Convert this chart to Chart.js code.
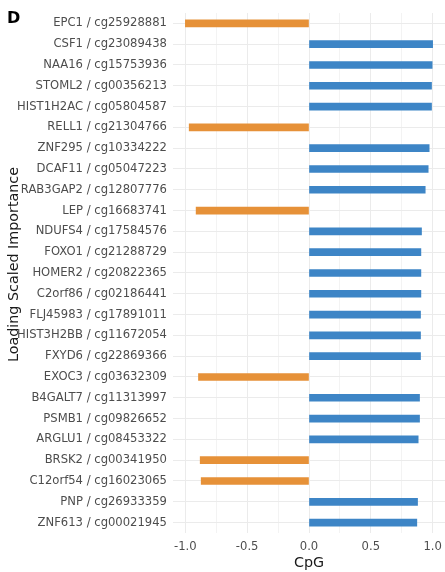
<!DOCTYPE html>
<html>
<head>
<meta charset="utf-8">
<script src="https://cdn.jsdelivr.net/npm/chart.js@4/dist/chart.umd.min.js"></script>
<style>
  html, body { margin: 0; padding: 0; background: #ffffff; }
  #wrap { position: relative; width: 445px; height: 572px; }
</style>
</head>
<body>
<div id="wrap"><canvas id="chart" width="445" height="572"></canvas></div>
<script>
// CpG loadings, top to bottom
const genes = [
  'EPC1 / cg25928881', 'CSF1 / cg23089438', 'NAA16 / cg15753936', 'STOML2 / cg00356213',
  'HIST1H2AC / cg05804587', 'RELL1 / cg21304766', 'ZNF295 / cg10334222', 'DCAF11 / cg05047223',
  'RAB3GAP2 / cg12807776', 'LEP / cg16683741', 'NDUFS4 / cg17584576', 'FOXO1 / cg21288729',
  'HOMER2 / cg20822365', 'C2orf86 / cg02186441', 'FLJ45983 / cg17891011', 'HIST3H2BB / cg11672054',
  'FXYD6 / cg22869366', 'EXOC3 / cg03632309', 'B4GALT7 / cg11313997', 'PSMB1 / cg09826652',
  'ARGLU1 / cg08453322', 'BRSK2 / cg00341950', 'C12orf54 / cg16023065', 'PNP / cg26933359',
  'ZNF613 / cg00021945'
];
const loadings = [
  -1.00, 1.00, 0.996, 0.991,
  0.991, -0.969, 0.972, 0.964,
  0.940, -0.913, 0.910, 0.905,
  0.905, 0.905, 0.902, 0.902,
  0.902, -0.894, 0.894, 0.894,
  0.883, -0.880, -0.872, 0.878,
  0.872
];
const majorTicks = [-1, -0.5, 0, 0.5, 1];
const majorTickLabels = ['-1.0', '-0.5', '0.0', '0.5', '1.0'];
const minorTicks = [-0.75, -0.25, 0.25, 0.75];

const positiveColor = '#3D85C6';
const negativeColor = '#E69138';
const FONT = "'DejaVu Sans', 'Liberation Sans', sans-serif";

Chart.defaults.font.family = FONT;
Chart.defaults.color = '#4D4D4D';

// Panel letter and the rotated y-axis title
const decorations = {
  id: 'decorations',
  afterDraw(chart) {
    const ctx = chart.ctx;
    ctx.save();
    ctx.fillStyle = '#000000';
    ctx.font = "bold 16px " + FONT;
    ctx.textAlign = 'left';
    ctx.textBaseline = 'alphabetic';
    ctx.fillText('D', 7, 22.7);

    ctx.font = "14.3px " + FONT;
    ctx.fillStyle = '#1a1a1a';
    ctx.translate(17.5, 264.5);
    ctx.rotate(-Math.PI / 2);
    ctx.textAlign = 'center';
    ctx.fillText('Loading Scaled Importance', 0, 0);
    ctx.restore();
  }
};

new Chart(document.getElementById('chart'), {
  type: 'bar',
  data: {
    labels: genes,
    datasets: [{
      data: loadings,
      backgroundColor: loadings.map(v => v < 0 ? negativeColor : positiveColor),
      borderWidth: 0,
      barThickness: 7
    }]
  },
  options: {
    indexAxis: 'y',
    responsive: false,
    animation: false,
    devicePixelRatio: 1,
    layout: { padding: { top: 12, right: 0, bottom: 0, left: 0 } },
    plugins: {
      legend: { display: false },
      tooltip: { enabled: false }
    },
    scales: {
      x: {
        type: 'linear',
        min: -1.1,
        max: 1.1,
        afterBuildTicks(scale) {
          scale.ticks = majorTicks.concat(minorTicks)
            .sort((a, b) => a - b)
            .map(v => ({ value: v }));
        },
        afterFit(scale) {
          scale.height = 39;
          // let the panel run to the canvas edge
          scale.paddingLeft = 0;
          scale.paddingRight = 0;
        },
        border: { display: false },
        grid: {
          drawTicks: false,
          lineWidth: 1,
          color: (c) => (c.tick && majorTicks.includes(c.tick.value)) ? '#EBEBEB' : '#F3F3F3'
        },
        ticks: {
          autoSkip: false,
          maxRotation: 0,
          padding: 7,
          font: { size: 11.6 },
          color: '#4D4D4D',
          callback: (value) => {
            const i = majorTicks.indexOf(value);
            return i >= 0 ? majorTickLabels[i] : '';
          }
        },
        title: {
          display: true,
          text: 'CpG',
          color: '#1a1a1a',
          font: { size: 14.3 },
          padding: { top: 0, bottom: 0 }
        }
      },
      y: {
        type: 'category',
        afterFit(scale) { scale.width = 173; },
        border: { display: false },
        grid: {
          offset: false,
          drawTicks: false,
          lineWidth: 1,
          color: '#EBEBEB'
        },
        ticks: {
          autoSkip: false,
          padding: 6,
          font: { size: 11.6 },
          color: '#4D4D4D'
        }
      }
    }
  },
  plugins: [decorations]
});
</script>
</body>
</html>
